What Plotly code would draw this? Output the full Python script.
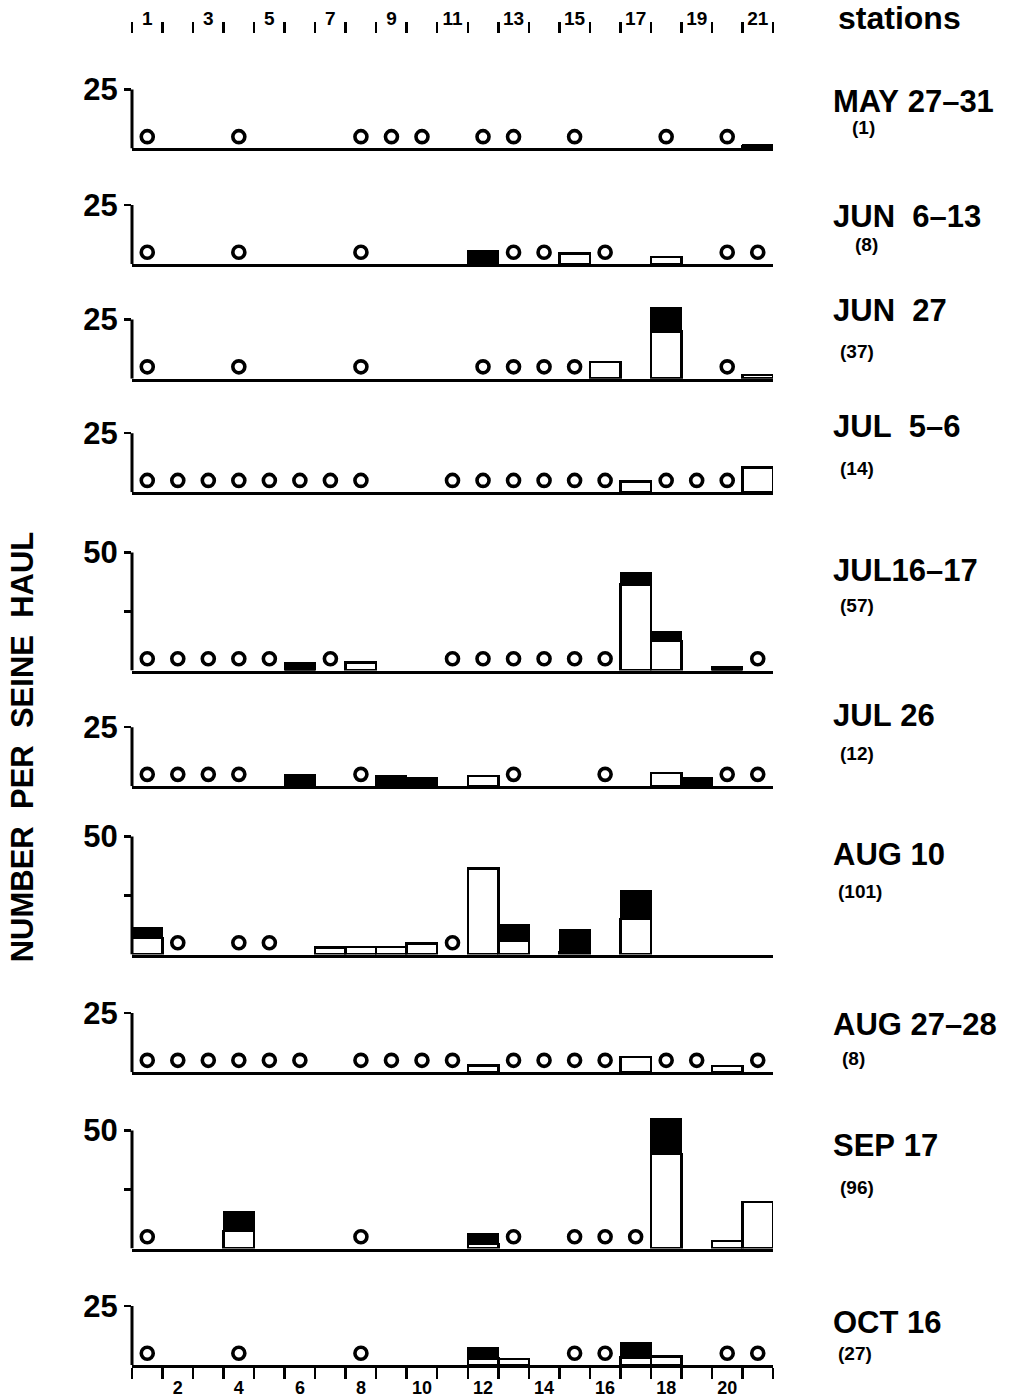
import plotly.graph_objects as go

# ---------------- data ----------------
stations = list(range(1, 22))
odd_stations = [1, 3, 5, 7, 9, 11, 13, 15, 17, 19, 21]
even_stations = [2, 4, 6, 8, 10, 12, 14, 16, 18, 20]

panel_dates = ["MAY 27–31", "JUN  6–13", "JUN  27", "JUL  5–6", "JUL16–17",
               "JUL 26", "AUG 10", "AUG 27–28", "SEP 17", "OCT 16"]
panel_counts = ["(1)", "(8)", "(37)", "(14)", "(57)", "(12)", "(101)", "(8)", "(96)", "(27)"]
panel_scale = [25, 25, 25, 25, 50, 25, 50, 25, 50, 25]

# stations seined with zero catch (open circles)
zero_may27 = [1, 4, 8, 9, 10, 12, 13, 15, 18, 20]
zero_jun06 = [1, 4, 8, 13, 14, 16, 20, 21]
zero_jun27 = [1, 4, 8, 12, 13, 14, 15, 20]
zero_jul05 = [1, 2, 3, 4, 5, 6, 7, 8, 11, 12, 13, 14, 15, 16, 18, 19, 20]
zero_jul16 = [1, 2, 3, 4, 5, 7, 11, 12, 13, 14, 15, 16, 21]
zero_jul26 = [1, 2, 3, 4, 8, 13, 16, 20, 21]
zero_aug10 = [2, 4, 5, 11]
zero_aug27 = [1, 2, 3, 4, 5, 6, 8, 9, 10, 11, 13, 14, 15, 16, 18, 19, 21]
zero_sep17 = [1, 8, 13, 15, 16, 17]
zero_oct16 = [1, 4, 8, 15, 16, 20, 21]

# number per seine haul: white (lower) part and black (upper) part, by station
white_may27 = {21: 1.0}
black_may27 = {21: 0.5}
white_jun06 = {15: 4.5, 18: 3.0}
black_jun06 = {12: 5.5}
white_jun27 = {16: 7.0, 18: 20.0, 21: 1.5}
black_jun27 = {18: 10.0}
white_jul05 = {17: 4.5, 21: 10.5}
black_jul05 = {}
white_jul16 = {8: 3.5, 17: 36.5, 18: 12.5}
black_jul16 = {6: 3.5, 17: 5.0, 18: 3.8, 20: 1.5}
white_jul26 = {12: 4.4, 18: 5.5}
black_jul26 = {6: 5.0, 9: 4.6, 10: 3.5, 19: 3.5}
white_aug10 = {1: 7.0, 7: 2.9, 8: 3.2, 9: 3.2, 10: 4.7, 12: 36.5, 13: 5.8, 15: 1.1, 17: 15.0}
black_aug10 = {1: 4.5, 13: 6.8, 15: 9.6, 17: 12.0}
white_aug27 = {12: 2.8, 17: 6.4, 20: 2.6}
black_aug27 = {}
white_sep17 = {4: 7.5, 12: 2.0, 18: 40.0, 20: 3.1, 21: 19.7}
black_sep17 = {4: 8.0, 12: 4.3, 18: 15.0}
white_oct16 = {12: 2.8, 13: 2.5, 17: 3.2, 18: 3.7}
black_oct16 = {12: 4.7, 17: 6.1}

zero_list = [zero_may27, zero_jun06, zero_jun27, zero_jul05, zero_jul16,
             zero_jul26, zero_aug10, zero_aug27, zero_sep17, zero_oct16]
white_list = [white_may27, white_jun06, white_jun27, white_jul05, white_jul16,
              white_jul26, white_aug10, white_aug27, white_sep17, white_oct16]
black_list = [black_may27, black_jun06, black_jun27, black_jul05, black_jul16,
              black_jul26, black_aug10, black_aug27, black_sep17, black_oct16]

# ---------------- geometry / style ----------------
W, H = 1020, 1398
PPU = 2.37                       # pixels per fish
X0, X1 = 132, 773
baselines = [149, 265, 380, 494, 673, 789, 958, 1076, 1253, 1370]
date_y = [102, 217, 312, 428, 573, 718, 858, 1028, 1150, 1327]
count_y = [128, 245, 353, 470, 608, 756, 895, 1062, 1192, 1358]
count_x = [850, 853, 838, 838, 838, 838, 836, 840, 838, 836]
CIRCLE_Y = 5.0
FONT = "Liberation Sans"

fig = go.Figure()
layout = dict(
    width=W, height=H, autosize=False,
    margin=dict(l=0, r=0, t=0, b=0, pad=0),
    paper_bgcolor="white", plot_bgcolor="rgba(0,0,0,0)",
    barmode="stack", bargap=0, showlegend=False,
    font=dict(family=FONT, color="black"),
)
shapes = []
annotations = []

for i in range(10):
    s = "" if i == 0 else str(i + 1)
    xa, ya = "x" + s, "y" + s
    scale = panel_scale[i]
    top = scale + 8
    b = baselines[i]
    dom = [1 - b / H, 1 - (b - top * PPU) / H]

    wv = [white_list[i].get(st) for st in stations]
    bv = [black_list[i].get(st) for st in stations]
    fig.add_trace(go.Bar(x=stations, y=wv, width=1, xaxis=xa, yaxis=ya,
                         marker=dict(color="white", line=dict(color="black", width=2.5)),
                         hoverinfo="skip"))
    fig.add_trace(go.Bar(x=stations, y=bv, width=1, xaxis=xa, yaxis=ya,
                         marker=dict(color="black", line=dict(color="black", width=1.5)),
                         hoverinfo="skip"))
    fig.add_trace(go.Scatter(x=zero_list[i], y=[CIRCLE_Y] * len(zero_list[i]),
                             mode="markers", xaxis=xa, yaxis=ya,
                             marker=dict(symbol="circle-open", size=12, color="black",
                                         line=dict(width=3.6, color="black")),
                             hoverinfo="skip"))

    xdict = dict(domain=[X0 / W, X1 / W], range=[0.5, 21.5], anchor=ya,
                 showline=True, linewidth=3, linecolor="black",
                 showgrid=False, zeroline=False, showticklabels=False, ticks="")
    if i == 9:
        xdict.update(showticklabels=True, tickmode="array", tickvals=even_stations,
                     ticktext=[str(v) for v in even_stations],
                     ticks="outside", ticklen=4, tickcolor="rgba(0,0,0,0)",
                     tickfont=dict(size=18, family=FONT, weight="bold"),
                     minor=dict(tickmode="array", tickvals=[v - 0.5 for v in stations] + [21.5],
                                ticks="outside", ticklen=11, tickwidth=2.5, tickcolor="black"))
    if i > 0:
        xdict["matches"] = "x"
    layout["xaxis" + s] = xdict

    tv = [25] if scale == 25 else [25, 50]
    tt = ["25"] if scale == 25 else ["", "50"]
    layout["yaxis" + s] = dict(domain=dom, range=[0, top], anchor=xa,
                               showline=False, showgrid=False, zeroline=False,
                               tickmode="array", tickvals=tv, ticktext=tt,
                               ticks="outside", ticklen=7, tickwidth=2.5, tickcolor="black",
                               tickfont=dict(size=31, family=FONT, weight="bold"))
    shapes.append(dict(type="line", xref=xa + " domain", yref=ya, x0=0, x1=0, y0=0, y1=scale,
                       line=dict(color="black", width=3), layer="above"))

    annotations.append(dict(text="<b>" + panel_dates[i].replace(" ", "&nbsp;") + "</b>",
                            xref="paper", yref="paper", x=831 / W, y=1 - date_y[i] / H,
                            xanchor="left", yanchor="middle", showarrow=False,
                            font=dict(size=31, family=FONT)))
    annotations.append(dict(text="<b>" + panel_counts[i] + "</b>",
                            xref="paper", yref="paper", x=count_x[i] / W, y=1 - count_y[i] / H,
                            xanchor="left", yanchor="middle", showarrow=False,
                            font=dict(size=19, family=FONT)))

# top station axis
fig.add_trace(go.Scatter(x=[1], y=[None], xaxis="x11", yaxis="y", mode="markers",
                         hoverinfo="skip"))
layout["xaxis11"] = dict(overlaying="x", anchor="free", position=1 - 33 / H, side="top",
                         range=[0.5, 21.5], showline=False, showgrid=False, zeroline=False,
                         tickmode="array", tickvals=odd_stations,
                         ticktext=[str(v) for v in odd_stations],
                         ticks="outside", ticklen=0, tickcolor="rgba(0,0,0,0)",
                         tickfont=dict(size=19, family=FONT, weight="bold"),
                         minor=dict(tickmode="array", tickvals=[v - 0.5 for v in stations] + [21.5],
                                    ticks="outside", ticklen=11, tickwidth=2.5, tickcolor="black"))

annotations.append(dict(text="<b>stations</b>", xref="paper", yref="paper",
                        x=836 / W, y=1 - 18 / H, xanchor="left", yanchor="middle",
                        showarrow=False, font=dict(size=32, family=FONT)))
annotations.append(dict(text="<b>NUMBER&nbsp;&nbsp;PER&nbsp;&nbsp;SEINE&nbsp;&nbsp;HAUL</b>",
                        xref="paper", yref="paper", x=22 / W, y=1 - 750 / H,
                        xanchor="center", yanchor="middle", textangle=-90,
                        showarrow=False, font=dict(size=31, family=FONT)))

layout["shapes"] = shapes
layout["annotations"] = annotations
fig.update_layout(**layout)
fig.write_html("out.html", config={"displayModeBar": False, "staticPlot": True},
               post_script="document.body.style.margin='0';document.body.style.overflow='hidden';")
